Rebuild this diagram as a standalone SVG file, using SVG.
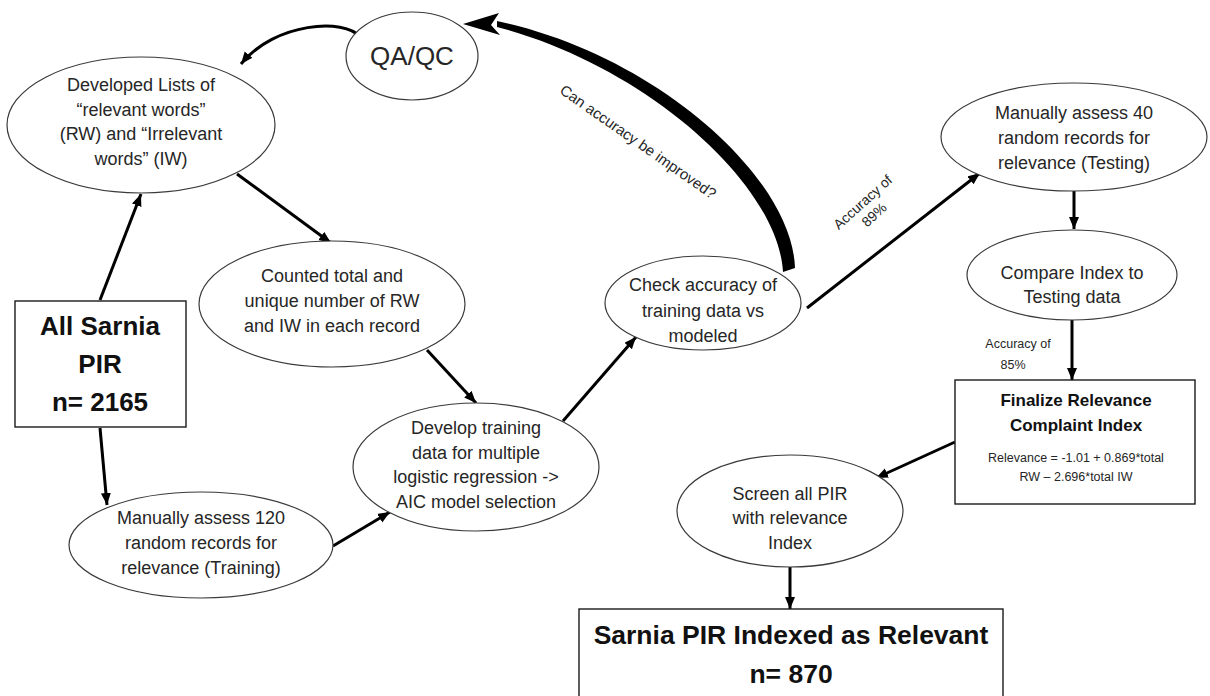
<svg xmlns="http://www.w3.org/2000/svg" width="1210" height="696" viewBox="0 0 1210 696">
<style>
.el{fill:#fff;stroke:#3a3a3a;stroke-width:1.2}
.bx{fill:#fff;stroke:#1a1a1a;stroke-width:1.4}
.t{font-family:"Liberation Sans",Arial,sans-serif;font-size:18px;fill:#262626;text-anchor:middle}
.b{font-family:"Liberation Sans",Arial,sans-serif;font-weight:bold;fill:#111;text-anchor:middle}
.s{font-family:"Liberation Sans",Arial,sans-serif;fill:#262626;text-anchor:middle}
.c{fill:none;stroke:#000;stroke-width:3;marker-end:url(#ah)}
</style>
<defs>
<marker id="ah" markerUnits="userSpaceOnUse" markerWidth="13" markerHeight="11" refX="12" refY="5" orient="auto">
<path d="M0,0 L12,5 L0,10 z" fill="#000"/>
</marker>
</defs>
<rect width="1210" height="696" fill="#fff"/>

<g id="connectors">
<path class="c" d="M100 300 L141 194"/>
<path class="c" d="M100 428 L107 505"/>
<path class="c" d="M237 174 L331 243"/>
<path class="c" d="M427 350 L476 403"/>
<path class="c" d="M333 546 L390 512"/>
<path class="c" d="M563 421 L636 337"/>
<path class="c" d="M807 308 L980 173"/>
<path class="c" d="M1074 190 L1074 229"/>
<path class="c" d="M1072 320 L1072 380"/>
<path class="c" d="M955 442 L876 478"/>
<path class="c" d="M790 567 L790 609"/>
<path class="c" d="M360 37 C345 18 275 22 241 64"/>
<path d="M795 268 C792 176 654 54 497 21 L497 27 C646 66 778 184 783 272 Z" fill="#000"/>
<polygon points="463,24 499,13 491,25 500,35" fill="#000"/>
<text class="s" font-size="15" transform="translate(638,142) rotate(35)" y="5">Can accuracy be improved?</text>
<g transform="translate(868,208) rotate(-42)">
<text class="s" font-size="14" y="-3">Accuracy of</text>
<text class="s" font-size="14" y="14">89%</text>
</g>
<text class="s" font-size="12.5" x="1018" y="348">Accuracy of</text>
<text class="s" font-size="12.5" x="1013" y="369">85%</text>
</g>

<g id="qaqc">
<ellipse class="el" cx="412" cy="56" rx="66" ry="44"/>
<text class="t" x="412" y="65" style="font-size:26px">QA/QC</text>
</g>

<g id="developed">
<ellipse class="el" cx="141" cy="125" rx="134" ry="68"/>
<text class="t" x="141" y="91">Developed Lists of</text>
<text class="t" x="141" y="115.5">“relevant words”</text>
<text class="t" x="141" y="140">(RW) and “Irrelevant</text>
<text class="t" x="141" y="164.5">words” (IW)</text>
</g>

<g id="allsarnia">
<rect class="bx" x="15" y="301" width="171" height="126"/>
<text class="b" x="100" y="335" font-size="26">All Sarnia</text>
<text class="b" x="100" y="373" font-size="26">PIR</text>
<text class="b" x="100" y="411" font-size="26">n= 2165</text>
</g>

<g id="counted">
<ellipse class="el" cx="332" cy="304" rx="133" ry="63"/>
<text class="t" x="332" y="282">Counted total and</text>
<text class="t" x="332" y="307">unique number of RW</text>
<text class="t" x="332" y="332">and IW in each record</text>
</g>

<g id="manual120">
<ellipse class="el" cx="201" cy="545" rx="132" ry="53"/>
<text class="t" x="201" y="524">Manually assess 120</text>
<text class="t" x="201" y="549">random records for</text>
<text class="t" x="201" y="574">relevance (Training)</text>
</g>

<g id="develop">
<ellipse class="el" cx="476" cy="467" rx="123" ry="64"/>
<text class="t" x="476" y="434">Develop training</text>
<text class="t" x="476" y="459">data for multiple</text>
<text class="t" x="476" y="483">logistic regression -&gt;</text>
<text class="t" x="476" y="508">AIC model selection</text>
</g>

<g id="check">
<ellipse class="el" cx="703" cy="303" rx="98" ry="47"/>
<text class="t" x="703" y="291">Check accuracy of</text>
<text class="t" x="703" y="317">training data vs</text>
<text class="t" x="703" y="342">modeled</text>
</g>

<g id="manual40">
<ellipse class="el" cx="1074" cy="137" rx="133" ry="54"/>
<text class="t" x="1074" y="119">Manually assess 40</text>
<text class="t" x="1074" y="144">random records for</text>
<text class="t" x="1074" y="169">relevance (Testing)</text>
</g>

<g id="compare">
<ellipse class="el" cx="1072" cy="275" rx="105" ry="45"/>
<text class="t" x="1072" y="279">Compare Index to</text>
<text class="t" x="1072" y="303">Testing data</text>
</g>

<g id="finalize">
<rect class="bx" x="955" y="380" width="240" height="124"/>
<text class="b" x="1076" y="406" font-size="17">Finalize Relevance</text>
<text class="b" x="1076" y="431" font-size="17">Complaint Index</text>
<text class="s" x="1076" y="462" font-size="12.5">Relevance = -1.01 + 0.869*total</text>
<text class="s" x="1076" y="481" font-size="12.5">RW – 2.696*total IW</text>
</g>

<g id="screen">
<ellipse class="el" cx="790" cy="511" rx="113" ry="56"/>
<text class="t" x="790" y="500">Screen all PIR</text>
<text class="t" x="790" y="524">with relevance</text>
<text class="t" x="790" y="549">Index</text>
</g>

<g id="indexed">
<rect class="bx" x="579" y="609" width="424" height="95"/>
<text class="b" x="791" y="644" font-size="26.5">Sarnia PIR Indexed as Relevant</text>
<text class="b" x="791" y="683" font-size="26.5">n= 870</text>
</g>
</svg>
